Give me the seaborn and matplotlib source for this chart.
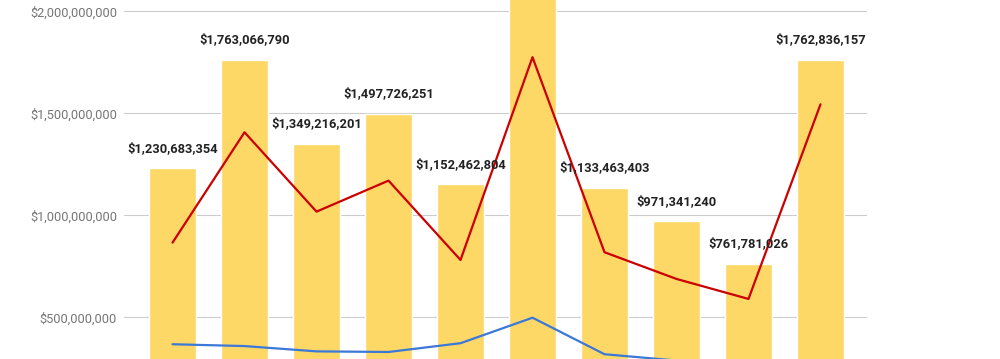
import numpy as np
import pandas as pd
import matplotlib
matplotlib.use("Agg")
import matplotlib.pyplot as plt
import seaborn as sns
from matplotlib.ticker import FuncFormatter

# ---- data ----
categories = ["1", "2", "3", "4", "5", "6", "7", "8", "9", "10"]
bar_values = [1230683354, 1763066790, 1349216201, 1497726251, 1152462804,
              2120000000, 1133463403, 971341240, 761781026, 1762836157]
red_values = [866e6, 1407e6, 1018e6, 1170e6, 781e6,
              1775e6, 819e6, 688e6, 590e6, 1544e6]
blue_values = [368e6, 359e6, 333e6, 330e6, 373e6,
               498e6, 319e6, 288e6, 270e6, 282e6]
y_ticks = [500e6, 1000e6, 1500e6, 2000e6]

sns.set_theme(style="white")
plt.rcParams["font.family"] = ["Roboto", "DejaVu Sans"]

fig = plt.figure(figsize=(10, 3.59), dpi=100)
ax = fig.add_axes([0.124, 0.0, 0.743, 1.0])

df = pd.DataFrame({"cat": categories, "bar": bar_values,
                   "red": red_values, "blue": blue_values})
df["pos"] = np.arange(len(df))

sns.barplot(data=df, x="cat", y="bar", order=categories, color="#FDD866",
            saturation=1, width=0.65, ax=ax, zorder=2)
sns.lineplot(x=df["pos"], y=df["red"], color="#CC0000", linewidth=1.6,
             ax=ax, zorder=3)
sns.lineplot(x=df["pos"], y=df["blue"], color="#3C78D8", linewidth=1.6,
             ax=ax, zorder=3)

for p, v in zip(ax.patches, bar_values):
    ax.annotate(f"${v:,.0f}", (p.get_x() + p.get_width() / 2, v),
                xytext=(0, 14.4), textcoords="offset points",
                ha="center", va="center", fontsize=9.3, fontweight="bold",
                color="#222222", zorder=4, annotation_clip=True, clip_on=True)

ax.set_xlim(-0.674, 9.646)
ax.set_ylim(295.6e6, 2055.4e6)
ax.set_yticks(y_ticks)
ax.yaxis.set_major_formatter(FuncFormatter(lambda v, _: f"${v:,.0f}"))
ax.tick_params(axis="y", length=0, pad=5, labelsize=9.2, labelcolor="#757575")
ax.set_xticks([])
ax.set_xlabel("")
ax.set_ylabel("")
ax.grid(axis="y", color="#CCCCCC", linewidth=0.8)
ax.set_axisbelow(True)
for s in ax.spines.values():
    s.set_visible(False)

fig.savefig("out.png", dpi=100)
